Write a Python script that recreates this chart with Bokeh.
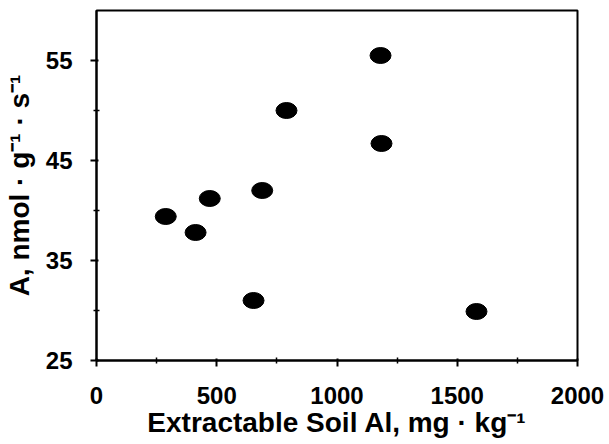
from bokeh.plotting import figure
from bokeh.models import FixedTicker, Range1d
from bokeh.embed import file_html
from bokeh.resources import INLINE

# Data
soil_al = [288, 412, 471, 653, 689, 790, 1181, 1185, 1580]
rate_a = [39.4, 37.8, 41.2, 31.0, 42.0, 50.0, 55.5, 46.7, 29.9]

x_ticks = [0, 500, 1000, 1500, 2000]
x_minor = [250, 750, 1250, 1750]
y_ticks = [25, 35, 45, 55]
y_minor = [30, 40, 50]

FONT = "Liberation Sans"

p = figure(width=609, height=444, output_backend="svg", toolbar_location=None,
           x_range=Range1d(0, 2000), y_range=Range1d(25, 60),
           min_border_left=96, min_border_right=32, min_border_top=10, min_border_bottom=84)
p.background_fill_color = "white"
p.border_fill_color = "white"
p.xgrid.visible = False
p.ygrid.visible = False
p.outline_line_color = "black"
p.outline_line_width = 2
p.outline_line_alpha = 1.0

p.ellipse(x=soil_al, y=rate_a, width=21, height=16, width_units="screen",
          height_units="screen", fill_color="black", line_color="black")

for ax, ticks, minor in ((p.xaxis[0], x_ticks, x_minor), (p.yaxis[0], y_ticks, y_minor)):
    ax.ticker = FixedTicker(ticks=ticks, minor_ticks=minor)
    ax.axis_line_width = 2
    ax.axis_line_color = "black"
    ax.major_tick_line_width = 2
    ax.major_tick_out = 6
    ax.major_tick_in = 2
    ax.minor_tick_line_width = 1.5
    ax.minor_tick_out = 3
    ax.minor_tick_in = 3
    ax.major_label_text_font = FONT
    ax.major_label_text_font_style = "bold"
    ax.major_label_text_font_size = "24px"
    ax.major_label_text_color = "black"
    ax.axis_label_text_font = FONT
    ax.axis_label_text_font_style = "bold"
    ax.axis_label_text_font_size = "28px"
    ax.axis_label_text_color = "black"

p.xaxis.axis_label = "Extractable Soil Al, mg \u00b7 kg\u207b\u00b9"
p.yaxis.axis_label = "A, nmol \u00b7 g\u207b\u00b9 \u00b7 s\u207b\u00b9"
p.xaxis.major_label_standoff = 20
p.xaxis.axis_label_standoff = 0
p.yaxis.major_label_standoff = 18
p.yaxis.axis_label_standoff = 8

open("out.html", "w").write(file_html(p, INLINE))
